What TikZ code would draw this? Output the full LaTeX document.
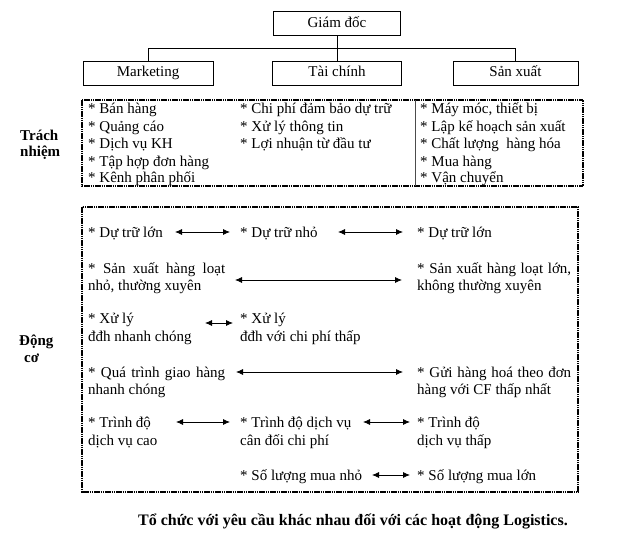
\documentclass[tikz,border=0pt]{standalone}
\usepackage{fontspec}
\setmainfont{Liberation Serif}
\usetikzlibrary{arrows.meta}
\tikzset{
	orgbox/.style={draw, line width=0.6pt, inner sep=0pt, minimum height=24pt, text height=10.5pt, text depth=3pt, font=\fontsize{15}{17}\selectfont},
	txt/.style={anchor=base west, inner sep=0pt, font=\fontsize{15}{17}\selectfont},
	heading/.style={anchor=base west, inner sep=0pt, font=\fontsize{15}{17}\selectfont\bfseries},
	dashbox/.style={line width=1.1pt, dash pattern=on 1.6pt off 0.6pt},
	twoway/.style={line width=0.8pt, {Latex[length=7pt,width=6pt]}-{Latex[length=7pt,width=6pt]}},
}
\begin{document}
\begin{tikzpicture}[x=1pt, y=-1pt]
			%%%%% START %%%%%
			\useasboundingbox (0, 0) rectangle (623, 537);
			
			% org chart
			\node[orgbox, minimum width=127pt] (gd) at (337, 23.5) {Giám đốc};
			\node[orgbox, minimum width=130pt] (mk) at (148, 73) {Marketing};
			\node[orgbox, minimum width=129pt] (tc) at (337, 73) {Tài chính};
			\node[orgbox, minimum width=125pt] (sx) at (515.5, 73) {Sản xuất};
			\coordinate (bus) at (0, 48);
			\draw[line width=0.6pt] (gd.south) -- (tc.north);
			\draw[line width=0.6pt] (mk.north) |- (sx.north |- bus) -- (sx.north);
			
			% trach nhiem
			\draw[dashbox] (82, 100) rectangle (583, 186);
			\draw[line width=0.4pt, color=black!70] (415, 100) -- (415, 186);
			\node[heading] (tn1) at (20, 141) {Trách};
			\node[heading] (tn2) at (20, 157) {nhiệm};
			
			\node[txt] (mkA) at (88, 114) {* Bán hàng};
			\node[txt] (mkB) at (88, 132) {* Quảng cáo};
			\node[txt] (mkC) at (88, 149) {* Dịch vụ KH};
			\node[txt] (mkD) at (88, 167) {* Tập hợp đơn hàng};
			\node[txt] (mkE) at (88, 183) {* Kênh phân phối};
			
			\node[txt] (tcA) at (240, 114) {* Chi phí đảm bảo dự trữ};
			\node[txt] (tcB) at (240, 132) {* Xử lý thông tin};
			\node[txt] (tcC) at (240, 149) {* Lợi nhuận từ đầu tư};
			
			\node[txt] (sxA) at (420, 114) {* Máy móc, thiết bị};
			\node[txt] (sxB) at (420, 132) {* Lập kế hoạch sản xuất};
			\node[txt] (sxC) at (420, 149) {* Chất lượng\ \ hàng hóa};
			\node[txt] (sxD) at (420, 167) {* Mua hàng};
			\node[txt] (sxE) at (420, 183) {* Vận chuyển};
			
			% dong co
			\draw[dashbox] (82, 207) rectangle (578, 492);
			\node[heading] (dc1) at (19, 345) {Động};
			\node[heading] (dc2) at (24, 362) {cơ};
			
			\node[txt] (r1a) at (88, 237) {* Dự trữ lớn};
			\node[txt] (r1b) at (240, 237) {* Dự trữ nhỏ};
			\node[txt] (r1c) at (417, 237) {* Dự trữ lớn};
			\coordinate (p1a) at (175, 232);
			\coordinate (p1b) at (230, 232);
			\coordinate (p1c) at (338, 232);
			\coordinate (p1d) at (403, 232);
			\draw[twoway] (p1a) -- (p1b);
			\draw[twoway] (p1c) -- (p1d);
			
			\node[txt] (r2a) at (88, 273) {\makebox[137pt][s]{* Sản xuất hàng loạt}};
			\node[txt] (r2b) at (88, 290) {nhỏ, thường xuyên};
			\node[txt] (r2c) at (417, 273) {\makebox[154pt][s]{* Sản xuất hàng loạt lớn,}};
			\node[txt] (r2d) at (417, 290) {không thường xuyên};
			\coordinate (p2a) at (235, 280);
			\coordinate (p2b) at (402, 280);
			\draw[twoway] (p2a) -- (p2b);
			
			\node[txt] (r3a) at (88, 323) {* Xử lý};
			\node[txt] (r3b) at (88, 341) {đđh nhanh chóng};
			\node[txt] (r3c) at (240, 323) {* Xử lý};
			\node[txt] (r3d) at (240, 341) {đđh với chi phí thấp};
			\coordinate (p3a) at (205, 323);
			\coordinate (p3b) at (233, 323);
			\draw[twoway] (p3a) -- (p3b);
			
			\node[txt] (r4a) at (88, 377) {\makebox[137pt][s]{* Quá trình giao hàng}};
			\node[txt] (r4b) at (88, 394) {nhanh chóng};
			\node[txt] (r4c) at (417, 377) {\makebox[154pt][s]{* Gửi hàng hoá theo đơn}};
			\node[txt] (r4d) at (417, 394) {hàng với CF thấp nhất};
			\coordinate (p4a) at (236, 372);
			\coordinate (p4b) at (403, 372);
			\draw[twoway] (p4a) -- (p4b);
			
			\node[txt] (r5a) at (88, 427) {* Trình độ};
			\node[txt] (r5b) at (88, 445) {dịch vụ cao};
			\node[txt] (r5c) at (240, 427) {* Trình độ dịch vụ};
			\node[txt] (r5d) at (240, 445) {cân đối chi phí};
			\node[txt] (r5e) at (417, 427) {* Trình độ};
			\node[txt] (r5f) at (417, 445) {dịch vụ thấp};
			\coordinate (p5a) at (176, 422);
			\coordinate (p5b) at (230, 422);
			\coordinate (p5c) at (363, 422);
			\coordinate (p5d) at (410, 422);
			\draw[twoway] (p5a) -- (p5b);
			\draw[twoway] (p5c) -- (p5d);
			
			\node[txt] (r6a) at (240, 480) {* Số lượng mua nhỏ};
			\node[txt] (r6b) at (417, 480) {* Số lượng mua lớn};
			\coordinate (p6a) at (372, 475);
			\coordinate (p6b) at (410, 475);
			\draw[twoway] (p6a) -- (p6b);
			
			% caption
			\node[heading, anchor=base, font=\fontsize{16}{18}\selectfont\bfseries] (cap) at (353, 525) {Tổ chức với yêu cầu khác nhau đối với các hoạt động Logistics.};
			%%%%% END %%%%%
		\end{tikzpicture}
\end{document}
